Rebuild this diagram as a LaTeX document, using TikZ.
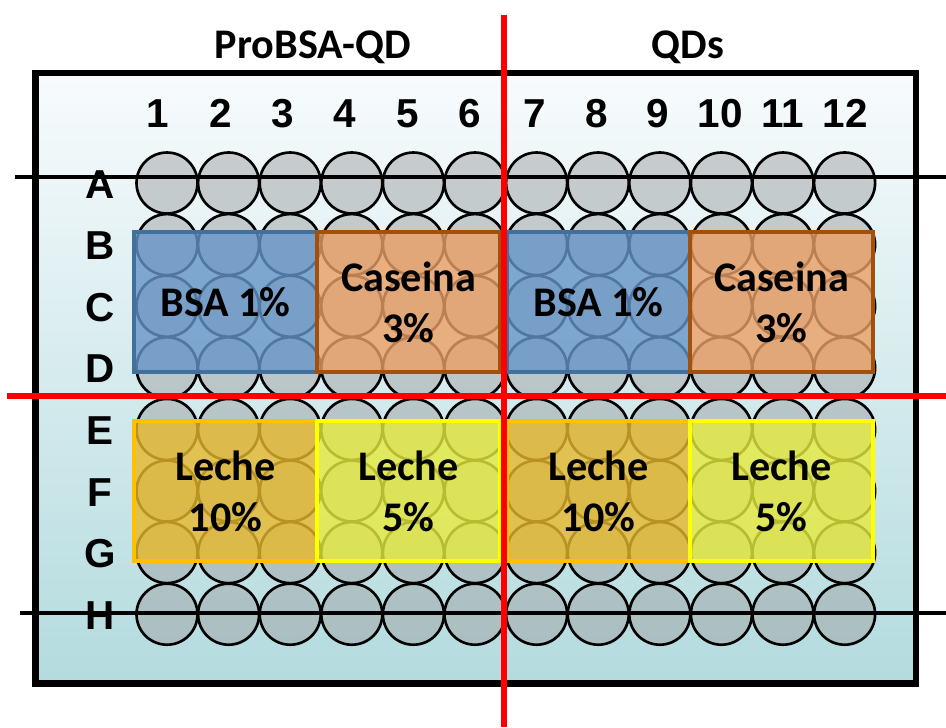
\documentclass[tikz,border=0pt]{standalone}
\usepackage{fontspec}
\setmainfont{Carlito}
\newfontfamily\arialfam{Liberation Sans}
\usepackage{xcolor}
\definecolor{azulbsa}{HTML}{6695C8}
\definecolor{azulborde}{HTML}{41709C}
\definecolor{naranjacas}{HTML}{EB9F65}
\definecolor{cafeborde}{HTML}{A0500F}
\definecolor{lechediez}{HTML}{E6B82C}
\definecolor{oroborde}{HTML}{FFC000}
\definecolor{lechecinco}{HTML}{E7EB3D}
\definecolor{amarilloborde}{HTML}{FFFF00}
\definecolor{fondoarriba}{HTML}{F8FBFD}
\definecolor{fondoabajo}{HTML}{B3DBDE}
\definecolor{grispozo}{HTML}{A0A3A5}
\usepackage{tikz}

\begin{document}
\begin{tikzpicture}[font=\bfseries,
  pozo/.style={draw=black,line width=1.5pt,fill=grispozo,fill opacity=0.5},
  caja/.style 2 args={draw=#1,fill=#2,line width=2pt,minimum width=3.66cm,minimum height=2.8cm,
    inner sep=0pt,align=center,fill opacity=0.8,text opacity=1,font=\fontsize{24}{29}\selectfont\bfseries},
  titulo/.style={font=\fontsize{24}{29}\selectfont\bfseries,anchor=base},
  numero/.style={font=\arialfam\fontsize{23}{23}\selectfont\bfseries,anchor=base},
  linea/.style={black,line width=2.3pt},
  corte/.style={red,line width=2.9pt}
]
\useasboundingbox (0,0) rectangle (18.92,-14.54);
% ---- placa ----
\draw[line width=3.8pt,top color=fondoarriba,bottom color=fondoabajo] (0.71,-1.46) rectangle (18.32,-13.67);
\node[titulo] (tituloI) at (6.26,-1.16) {ProBSA-QD};
\node[titulo] (tituloD) at (13.76,-1.16) {QDs};
% ---- pocillos ----
\foreach \c in {0,...,11}
  \foreach \r in {0,...,7}
    \draw[pozo] (3.34+\c*1.232,-3.66-\r*1.232) circle (0.61);
% ---- columnas y filas ----
\foreach \x/\n in {3.16/1,4.42/2,5.66/3,6.90/4,8.16/5,9.40/6,10.70/7,11.94/8,13.16/9,14.40/10,15.66/11,16.90/12}
  \node[numero] (col\n) at (\x,-2.54) {\n};
\foreach \l [count=\i from 0] in {A,...,H}
  \node[numero] (fila\l) at (2.0,-3.96-\i*1.232) {\l};
% ---- bloqueo ----
\node[caja={azulborde}{azulbsa}] (bsaI) at (4.51,-6.04) {BSA 1\%};
\node[caja={cafeborde}{naranjacas}] (casI) at (8.17,-6.04) {Caseina\\3\%};
\node[caja={azulborde}{azulbsa}] (bsaD) at (11.97,-6.04) {BSA 1\%};
\node[caja={cafeborde}{naranjacas}] (casD) at (15.63,-6.04) {Caseina\\3\%};
\node[caja={oroborde}{lechediez}] (lecheDiezI) at (4.51,-9.82) {Leche\\10\%};
\node[caja={amarilloborde}{lechecinco}] (lecheCincoI) at (8.17,-9.82) {Leche\\5\%};
\node[caja={oroborde}{lechediez}] (lecheDiezD) at (11.97,-9.82) {Leche\\10\%};
\node[caja={amarilloborde}{lechecinco}] (lecheCincoD) at (15.63,-9.82) {Leche\\5\%};
% ---- lineas ----
\draw[linea] (0.30,-3.54) -- (18.92,-3.54);
\draw[linea] (0.40,-12.26) -- (18.92,-12.26);
\draw[corte] (10.08,-0.30) -- (10.08,-14.54);
\draw[corte] (0.14,-7.92) -- (18.92,-7.92);
\end{tikzpicture}
\end{document}
